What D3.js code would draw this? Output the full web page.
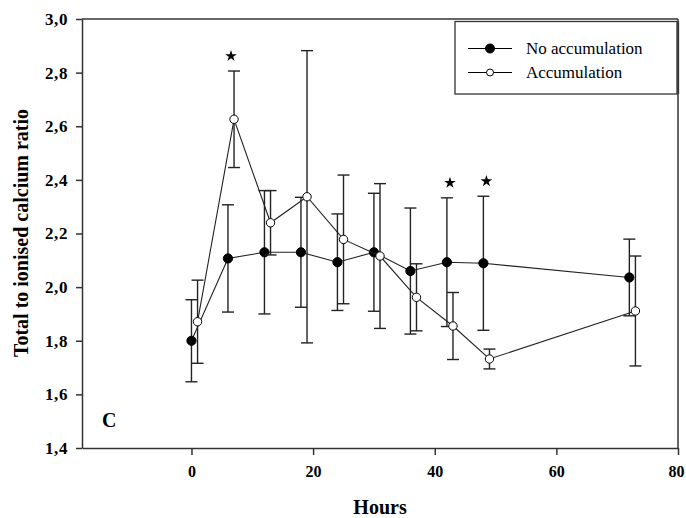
<!DOCTYPE html>
<html>
<head>
<meta charset="utf-8">
<script src="https://cdn.jsdelivr.net/npm/d3@7"></script>
<style>
  body { margin: 0; background: #fff; }
  svg text { font-family: 'Liberation Serif', 'Times New Roman', serif !important; fill: #000; }
</style>
</head>
<body>
<svg id="chart" width="686" height="518"></svg>
<script>
// values
var hoursNo = [0, 6, 12, 18, 24, 30, 36, 42, 48, 72];
var meanNo = [1.80, 2.107, 2.13, 2.13, 2.093, 2.13, 2.06, 2.093, 2.089, 2.036];
var errNo = [0.153, 0.20, 0.23, 0.205, 0.18, 0.22, 0.235, 0.24, 0.25, 0.143];

var hoursAcc = [1, 7, 13, 19, 25, 31, 37, 43, 49, 73];
var meanAcc = [1.871, 2.626, 2.24, 2.337, 2.178, 2.116, 1.962, 1.855, 1.732, 1.911];
var errAcc = [0.155, 0.18, 0.12, 0.545, 0.24, 0.27, 0.125, 0.125, 0.037, 0.205];

var starHours = [6.5, 42.5, 48.5];
var starLevel = [2.806, 2.333, 2.339];

var xTicks = [0, 20, 40, 60, 80];
var yTicks = [1.4, 1.6, 1.8, 2.0, 2.2, 2.4, 2.6, 2.8, 3.0];
var seriesNames = ["No accumulation", "Accumulation"];

var serif = "'Liberation Serif', 'Times New Roman', serif";
var margin = {left: 82, top: 19, right: 8, bottom: 70};
var W = 686, H = 518;
var svg = d3.select("#chart");

var x = d3.scaleLinear().domain([-18, 80]).range([margin.left, W - margin.right]);
var y = d3.scaleLinear().domain([1.4, 3.0]).range([H - margin.bottom, margin.top]);

var fmt = function(d) { return d3.format(".1f")(d).replace(".", ","); };

// axes
var xAxis = svg.append("g")
  .attr("transform", "translate(0," + y(1.4) + ")")
  .call(d3.axisBottom(x).tickValues(xTicks).tickSize(7).tickPadding(11).tickSizeOuter(0));
var yAxis = svg.append("g")
  .attr("transform", "translate(" + x(-18) + ",0)")
  .call(d3.axisLeft(y).tickValues(yTicks).tickFormat(fmt).tickSize(6).tickPadding(8).tickSizeOuter(0));

[xAxis, yAxis].forEach(function(a) {
  a.attr("font-family", serif);
  a.selectAll("path, line").attr("stroke", "#333").attr("stroke-width", 1.5);
  a.selectAll("text")
    .style("font-family", serif)
    .style("font-weight", "bold")
    .style("font-size", "17px");
});
yAxis.selectAll("text").style("letter-spacing", "0.6px");
xAxis.selectAll("text").attr("dy", "0.71em").style("font-size", "16px");
// keep the last label inside the window
xAxis.selectAll("text").filter(d => d === 80).attr("dx", -2);

// top and right frame
svg.append("line").attr("x1", x(-18)).attr("x2", x(80)).attr("y1", y(3.0)).attr("y2", y(3.0))
  .attr("stroke", "#333").attr("stroke-width", 1.5);
svg.append("line").attr("x1", x(80)).attr("x2", x(80)).attr("y1", y(3.0)).attr("y2", y(1.4))
  .attr("stroke", "#333").attr("stroke-width", 1.5);

// axis titles
svg.append("text")
  .attr("x", (x(-18) + x(80)) / 2).attr("y", 514)
  .attr("text-anchor", "middle")
  .style("font-family", serif).style("font-weight", "bold").style("font-size", "20px")
  .text("Hours");
svg.append("text")
  .attr("transform", "translate(28,233) rotate(-90)")
  .attr("text-anchor", "middle")
  .style("font-family", serif).style("font-weight", "bold").style("font-size", "20px")
  .text("Total to ionised calcium ratio");

svg.append("text")
  .attr("x", 102).attr("y", 427)
  .style("font-family", serif).style("font-weight", "bold").style("font-size", "20px")
  .text("C");

function drawSeries(hours, mean, err, filled) {
  var pts = hours.map(function(h, i) { return {h: h, m: mean[i], e: err[i]}; });
  var g = svg.append("g");
  var bars = g.selectAll(".eb").data(pts).enter().append("g");
  bars.append("line")
    .attr("x1", d => x(d.h)).attr("x2", d => x(d.h))
    .attr("y1", d => y(d.m - d.e)).attr("y2", d => y(d.m + d.e))
    .attr("stroke", "#222").attr("stroke-width", 1.4);
  [-1, 1].forEach(function(s) {
    bars.append("line")
      .attr("x1", d => x(d.h) - 6).attr("x2", d => x(d.h) + 6)
      .attr("y1", d => y(d.m + s * d.e)).attr("y2", d => y(d.m + s * d.e))
      .attr("stroke", "#222").attr("stroke-width", 1.4);
  });
  g.append("path")
    .datum(pts)
    .attr("fill", "none").attr("stroke", "#222").attr("stroke-width", 1.1)
    .attr("d", d3.line().x(d => x(d.h)).y(d => y(d.m)));
  g.selectAll("circle").data(pts).enter().append("circle")
    .attr("cx", d => x(d.h)).attr("cy", d => y(d.m))
    .attr("r", filled ? 4.6 : 4.2)
    .attr("fill", filled ? "#000" : "#fff")
    .attr("stroke", "#000").attr("stroke-width", 1);
}
drawSeries(hoursNo, meanNo, errNo, true);
drawSeries(hoursAcc, meanAcc, errAcc, false);

// significance stars
svg.selectAll(".star").data(starHours).enter().append("path")
  .attr("transform", (d, i) => "translate(" + x(d) + "," + (y(starLevel[i]) - 15) + ")")
  .attr("d", d3.symbol().type(d3.symbolStar).size(42))
  .attr("fill", "#000");

// legend
var lg = svg.append("g");
lg.append("rect").attr("x", 455).attr("y", 21.5).attr("width", 222).attr("height", 72.5)
  .attr("fill", "#fff").attr("stroke", "#333").attr("stroke-width", 1.3);
lg.append("line").attr("x1", 678.5).attr("x2", 678.5).attr("y1", 21.5).attr("y2", 94)
  .attr("stroke", "#333").attr("stroke-width", 1.3);
var legY = [48.5, 72.5];
seriesNames.forEach(function(name, i) {
  lg.append("line").attr("x1", 468).attr("x2", 512).attr("y1", legY[i]).attr("y2", legY[i])
    .attr("stroke", "#000").attr("stroke-width", 1.2);
  lg.append("circle").attr("cx", 490).attr("cy", legY[i]).attr("r", i === 0 ? 4.5 : 3.5)
    .attr("fill", i === 0 ? "#000" : "#fff").attr("stroke", "#000").attr("stroke-width", 1);
  lg.append("text").attr("x", 526).attr("y", legY[i] + 5.5)
    .style("font-family", serif).style("font-size", "17px")
    .text(name);
});
</script>
</body>
</html>
